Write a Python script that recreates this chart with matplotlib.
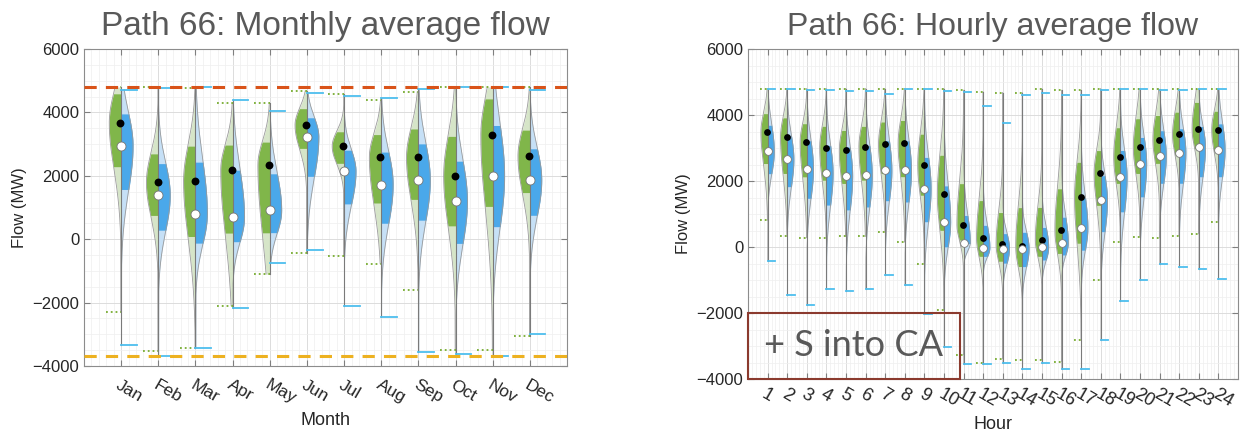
import numpy as np
import matplotlib.pyplot as plt
from matplotlib.patches import Rectangle
from matplotlib.ticker import MultipleLocator

plt.rcParams['font.family'] = ['Liberation Sans', 'DejaVu Sans']

# rows: [min, q1, middle (dot), q3, max]
months = ['Jan', 'Feb', 'Mar', 'Apr', 'May', 'Jun', 'Jul', 'Aug', 'Sep', 'Oct', 'Nov', 'Dec']
month_green = [
    [-2310, 2280, 3670, 4600, 4800],
    [-3530, 730, 1790, 2700, 4800],
    [-3420, 70, 1830, 2950, 4760],
    [-2100, 180, 2180, 2970, 4300],
    [-1100, 200, 2340, 3070, 4310],
    [-420, 2860, 3600, 4120, 4680],
    [-515, 2390, 2930, 3390, 4575],
    [-770, 1130, 2580, 3310, 4385],
    [-1590, 1250, 2580, 3490, 4650],
    [-3480, 410, 2000, 3250, 4800],
    [-3500, 1020, 3280, 4440, 4800],
    [-3060, 1460, 2620, 3460, 4800],
]
month_blue = [
    [-3340, 1550, 2950, 3970, 4720],
    [-3680, 280, 1390, 2390, 4780],
    [-3420, -140, 810, 2440, 4800],
    [-2170, -80, 700, 2180, 4400],
    [-740, 200, 915, 2070, 4040],
    [-350, 1970, 3230, 3840, 4600],
    [-2110, 1100, 2145, 2810, 4520],
    [-2450, 490, 1725, 2755, 4440],
    [-3550, 580, 1860, 3020, 4730],
    [-3610, -140, 1200, 2470, 4800],
    [-3690, 390, 2000, 3600, 4800],
    [-2980, 740, 1870, 2860, 4700],
]
month_upper = 4800
month_lower = -3675

hours = [str(h) for h in range(1, 25)]
hour_green = [
    [810, 2525, 3485, 4040, 4800],
    [320, 2220, 3330, 3920, 4800],
    [280, 2120, 3180, 3740, 4800],
    [280, 2020, 3010, 3660, 4800],
    [320, 1920, 2930, 3535, 4800],
    [320, 2020, 3030, 3660, 4800],
    [455, 2220, 3110, 3790, 4800],
    [150, 2120, 3140, 3840, 4800],
    [-505, 1565, 2495, 3430, 4800],
    [-1920, 505, 1600, 2780, 4800],
    [-3260, 200, 680, 1920, 4750],
    [-3515, -300, 270, 1410, 4700],
    [-3380, -450, 80, 1060, 4680],
    [-3410, -600, 20, 1210, 4680],
    [-3410, -300, 220, 1210, 4800],
    [-3470, -200, 505, 1770, 4750],
    [-2830, 100, 1515, 2575, 4750],
    [-1010, 1260, 2240, 2930, 4800],
    [160, 1920, 2730, 3620, 4800],
    [300, 2220, 3030, 3890, 4800],
    [280, 2525, 3250, 3990, 4800],
    [340, 2780, 3410, 4090, 4800],
    [400, 2980, 3585, 4390, 4800],
    [760, 2880, 3555, 4120, 4800],
]
hour_blue = [
    [-420, 2220, 2900, 3690, 4800],
    [-1440, 1820, 2660, 3380, 4800],
    [-1750, 1465, 2370, 3230, 4750],
    [-1260, 1260, 2240, 3080, 4750],
    [-1340, 1110, 2160, 3030, 4730],
    [-1260, 1210, 2170, 3080, 4720],
    [-840, 1390, 2320, 3230, 4650],
    [-1160, 1360, 2320, 3230, 4800],
    [-2020, 760, 1770, 2730, 4800],
    [-3030, 0, 760, 1870, 4730],
    [-3555, 100, 130, 960, 4700],
    [-3555, -300, -20, 660, 4260],
    [-3515, -505, -50, 420, 3760],
    [-3690, -600, -50, 455, 4600],
    [-3515, -400, 0, 600, 4680],
    [-3690, -250, 130, 910, 4600],
    [-3690, -100, 575, 1515, 4600],
    [-2830, 455, 1415, 2170, 4770],
    [-1650, 1060, 2120, 2930, 4800],
    [-990, 1515, 2525, 3330, 4800],
    [-525, 1920, 2750, 3535, 4770],
    [-605, 1920, 2860, 3585, 4750],
    [-665, 2120, 3020, 3660, 4800],
    [-960, 2120, 2950, 3740, 4800],
]

LG, DG = '#d6e5c8', '#80b64a'
LB, DB = '#c6e0f6', '#4aa8ea'
TXT = '#595959'


def half(ax, x, st, side, light, dark, W):
    lo, q1, mid, q3, hi = st
    y = np.linspace(lo, hi, 400)
    s = np.where(y > mid, max(q3 - mid, 250), max(mid - q1, 250)) * 1.05
    w = W * np.exp(-0.5 * ((y - mid) / s) ** 2)
    w = np.maximum(w, W * 0.03)
    xs = x + side * w
    ax.fill_betweenx(y, x, xs, color=light, lw=0, zorder=2)
    m = (y >= q1) & (y <= q3)
    ax.fill_betweenx(y[m], x, xs[m], color=dark, lw=0, zorder=2)
    ax.plot(xs, y, color='#9a9a9a', lw=0.6, zorder=3)


def panel(ax, labels, green, blue, W, cap, dot, lsize, lpad):
    for i, (g, b) in enumerate(zip(green, blue)):
        x = i + 1
        half(ax, x, g, -1, LG, DG, W)
        half(ax, x, b, 1, LB, DB, W)
        ax.plot([x, x], [min(g[0], b[0]), max(g[4], b[4])], color='#7a7a7a', lw=0.8, zorder=3)
        for v in (g[0], g[4]):
            ax.plot([x - cap, x], [v, v], color='#77ac30', ls=':', lw=1.3, zorder=3)
        for v in (b[0], b[4]):
            ax.plot([x, x + cap], [v, v], color='#4dbeee', lw=1.3, zorder=3)
        ax.scatter(x - 0.02, g[2], s=dot, c='black', zorder=5, lw=0)
        ax.scatter(x, b[2], s=dot * 1.3, c='white', edgecolors='#777777', lw=0.6, zorder=6)
    ax.set_xlim(0, len(labels) + 1)
    ax.set_ylim(-4000, 6000)
    ax.set_xticks(range(1, len(labels) + 1))
    ax.set_xticklabels(labels, rotation=-30, ha='left', va='top', rotation_mode='anchor', fontsize=lsize)
    ax.set_yticks([-4000, -2000, 0, 2000, 4000, 6000])
    ax.yaxis.set_minor_locator(MultipleLocator(500))
    ax.xaxis.set_minor_locator(MultipleLocator(0.2))
    ax.grid(True, which='major', color='#dcdcdc', lw=0.7, zorder=0)
    ax.grid(True, which='minor', color='#efefef', lw=0.5, zorder=0)
    ax.set_axisbelow(True)
    ax.tick_params(which='both', direction='in', top=True, right=True, colors='#262626')
    ax.tick_params(axis='y', labelsize=12)
    ax.tick_params(axis='x', pad=lpad)
    ax.tick_params(which='minor', length=0)
    ax.tick_params(which='major', color='#7f7f7f', length=4)
    for sp in ax.spines.values():
        sp.set_color('#8c8c8c')
    ax.set_ylabel('Flow (MW)', fontsize=12, color='#262626')


fig = plt.figure(figsize=(12.43, 4.38), dpi=100)
ax1 = fig.add_axes([84 / 1243, 72 / 438, 483 / 1243, 317 / 438])
ax2 = fig.add_axes([748 / 1243, 59 / 438, 490 / 1243, 330 / 438])

panel(ax1, months, month_green, month_blue, 0.32, 0.42, 32, 12.5, 8)
ax1.axhline(month_upper, color='#d95319', ls=(0, (4, 3)), lw=2.2, zorder=4)
ax1.axhline(month_lower, color='#edb120', ls=(0, (4, 3)), lw=2.2, zorder=4)
ax1.set_xlabel('Month', fontsize=13, color='#262626')
ax1.set_title('Path 66: Monthly average flow', fontsize=24, color=TXT, pad=10)

panel(ax2, hours, hour_green, hour_blue, 0.34, 0.38, 24, 13, 5)
ax2.set_xlabel('Hour', fontsize=13, color='#262626')
ax2.set_title('Path 66: Hourly average flow', fontsize=23, color=TXT, pad=10)
ax2.add_patch(Rectangle((0, -4000), 10.83, 2000, fill=False,
                        edgecolor='#8b3a2e', lw=1.5, zorder=7, clip_on=False))
ax2.text(5.4, -3000, '+ S into CA', fontsize=26, color=TXT, family=['Lato', 'DejaVu Sans'],
         ha='center', va='center', zorder=8)

fig.savefig('out.png', dpi=100)
